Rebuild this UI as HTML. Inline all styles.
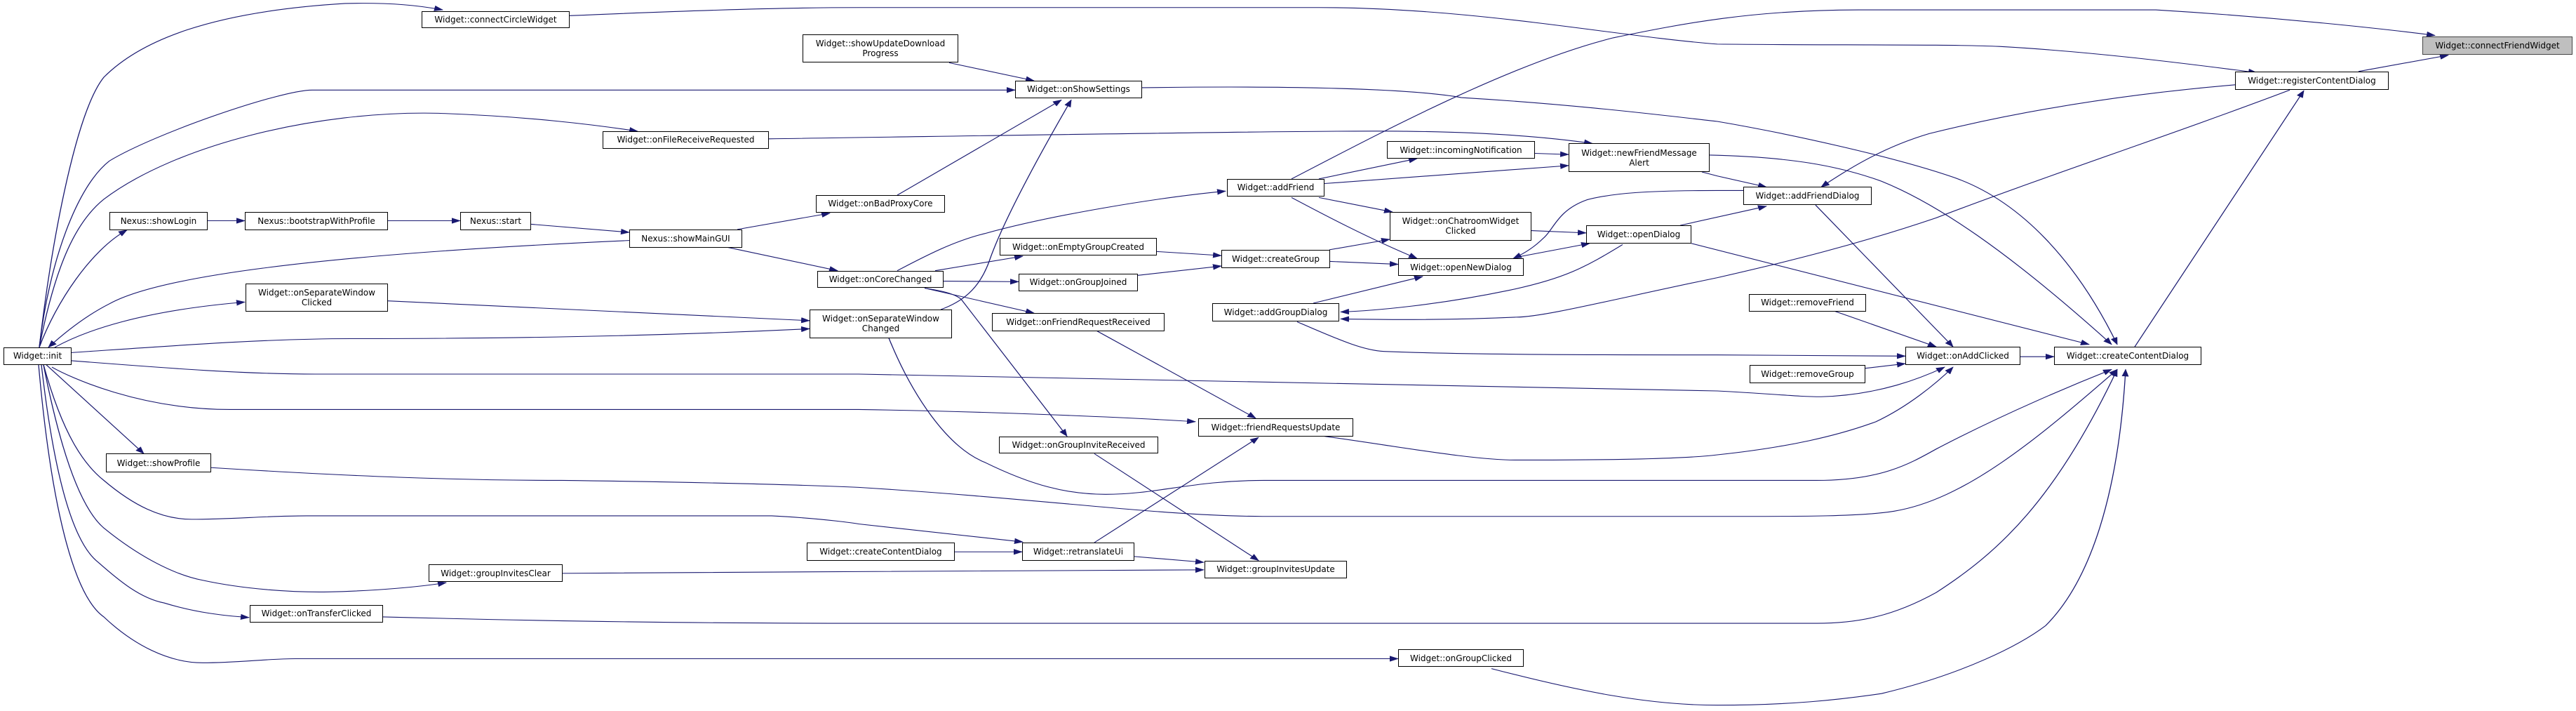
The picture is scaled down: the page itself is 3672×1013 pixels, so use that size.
<!DOCTYPE html>
<html><head><meta charset="utf-8"><style>
html,body{margin:0;padding:0;background:#fff;}
#c{position:relative;width:3672px;height:1013px;overflow:hidden;background:#fff;}
svg{position:absolute;left:0;top:0;}
.n{position:absolute;box-sizing:border-box;border:1.3px solid #000;background:#fff;font-family:"DejaVu Sans","Liberation Sans",sans-serif;font-size:12px;line-height:14px;color:#000;text-align:center;display:flex;align-items:center;justify-content:center;white-space:nowrap;}
.g{background:#bfbfbf;border-color:#444;}
</style></head><body><div id="c">
<svg width="3672" height="1013" viewBox="0 0 3672 1224" preserveAspectRatio="none">
<defs><marker id="a" markerWidth="13" markerHeight="10" refX="12" refY="5" orient="auto" markerUnits="userSpaceOnUse"><path d="M0,0 L13,5 L0,10 z" fill="#191970"/></marker></defs>
<g fill="none" stroke="#191970" stroke-width="1.3" vector-effect="non-scaling-stroke" marker-end="url(#a)">
<path d="M56,598 C75,400 110,190 148,133 C200,70 300,20 492,6 C560,4 600,10 631,17"/>
<path d="M812,27 C950,20 1100,13 1224,13 L1880,13 C2100,13 2300,62 2448,76 C2600,78 2780,76 2850,80 C3000,90 3150,115 3217,125"/>
<path d="M1841,308 C1950,240 2150,110 2300,65 C2400,40 2500,17 2650,17 L3073,17 C3250,30 3400,50 3471,61"/>
<path d="M56,598 C70,450 110,320 156,277 C220,230 400,155 445,155 L1447,155"/>
<path d="M56,598 C80,450 110,380 148,343 C250,250 450,190 625,195 C750,200 850,215 909,226"/>
<path d="M1096,239 C1500,232 1900,224 2005,226 C2150,228 2230,240 2270,247"/>
<path d="M56,598 C80,520 130,430 181,396"/>
<path d="M296,380 L349,380"/>
<path d="M553,380 L656,380"/>
<path d="M757,386 L897,400"/>
<path d="M1051,395 L1183,367"/>
<path d="M1038,426 L1194,466"/>
<path d="M897,414 C600,430 250,460 156,523 C120,545 90,575 69,598"/>
<path d="M78,598 C120,570 200,535 349,520"/>
<path d="M553,518 L1154,552"/>
<path d="M102,607 C250,595 380,583 500,583 C800,583 1000,575 1154,566"/>
<path d="M102,621 C250,635 350,644 450,644 L1224,644 L2448,673 C2530,678 2560,683 2596,683 C2680,680 2740,650 2772,632"/>
<path d="M74,632 C100,650 200,705 328,705 L1224,705 C1400,708 1600,718 1704,726"/>
<path d="M66,628 L205,781"/>
<path d="M301,805 C500,820 650,827 800,827 C1000,830 1150,835 1224,839 C1500,860 1650,888 1800,889 L2448,889 C2550,889 2650,890 2700,880 C2800,860 2900,760 3018,636"/>
<path d="M1267,582 C1300,680 1350,770 1404,796 C1470,835 1520,851 1576,851 C1650,851 1700,827 1802,827 L2589,827 C2680,827 2720,800 2760,773 C2860,710 2960,660 3010,636"/>
<path d="M62,628 C90,750 120,800 148,827 C190,870 230,894 273,894 C330,894 380,888 437,888 L1100,888 C1180,893 1224,902 1224,902 L1458,933"/>
<path d="M62,628 C90,800 120,880 148,909 C200,960 250,990 289,999 C350,1015 420,1020 468,1019 C540,1017 600,1010 636,1003"/>
<path d="M802,987 L1224,984 L1716,981"/>
<path d="M59,628 C80,850 110,940 140,968 C170,1000 200,1030 234,1038 C280,1055 320,1060 355,1063"/>
<path d="M546,1062 C800,1070 1000,1073 1224,1073 L2590,1073 C2650,1073 2700,1060 2760,1020 C2850,950 2930,860 3018,636"/>
<path d="M55,628 C75,900 110,1030 148,1062 C190,1110 240,1141 289,1141 C340,1141 380,1134 421,1134 L1993,1134"/>
<path d="M2126,1151 C2250,1190 2350,1214 2448,1214 C2550,1214 2620,1205 2682,1194 C2800,1160 2880,1110 2916,1077 C2980,1000 3020,850 3030,636"/>
<path d="M1361,950 L1457,950"/>
<path d="M1617,958 L1716,968"/>
<path d="M1560,934 L1794,753"/>
<path d="M1560,781 L1794,965"/>
<path d="M1564,570 L1790,720"/>
<path d="M1318,496 C1340,500 1360,505 1370,515 L1521,751"/>
<path d="M1318,496 L1474,539"/>
<path d="M1345,484 L1452,485"/>
<path d="M1333,466 L1458,441"/>
<path d="M1279,466 C1320,440 1360,415 1404,402 C1500,370 1650,340 1747,329"/>
<path d="M1341,533 C1370,520 1395,500 1410,450 C1430,380 1480,270 1527,172"/>
<path d="M1279,336 L1513,172"/>
<path d="M1353,108 L1474,139"/>
<path d="M1649,433 L1741,440"/>
<path d="M1622,474 L1741,458"/>
<path d="M1895,430 L1981,412"/>
<path d="M1896,450 L1993,455"/>
<path d="M1880,308 L2020,273"/>
<path d="M1888,316 L2236,285"/>
<path d="M1880,340 L1985,365"/>
<path d="M1841,340 C1880,365 1950,410 2020,445"/>
<path d="M2188,264 L2236,266"/>
<path d="M2183,397 L2261,401"/>
<path d="M2161,443 L2266,419"/>
<path d="M1872,522 L2028,476"/>
<path d="M2426,296 L2448,303 L2518,322"/>
<path d="M2485,328 L2448,328 C2350,328 2300,332 2262,344 C2220,362 2215,395 2200,410 C2185,428 2170,438 2157,445"/>
<path d="M2395,388 L2518,355"/>
<path d="M2411,419 L2978,593"/>
<path d="M3264,155 C3100,230 2900,310 2760,375 C2650,420 2550,450 2448,478 C2300,515 2200,546 2161,546 C2050,552 1960,550 1911,549"/>
<path d="M2313,421 C2260,460 2230,480 2150,500 C2050,525 1960,535 1911,537"/>
<path d="M1849,554 C1900,580 1940,603 1973,605 C2100,611 2300,611 2448,611 L2716,613"/>
<path d="M1888,751 C2000,770 2100,792 2161,792 C2300,792 2400,790 2448,783 C2550,770 2620,750 2674,726 C2720,700 2760,660 2784,632"/>
<path d="M1628,151 C1800,148 2000,150 2083,168 C2250,180 2380,200 2448,209 C2550,230 2700,270 2784,305 C2880,345 2960,450 3018,593"/>
<path d="M2437,267 C2550,270 2620,285 2682,312 C2760,350 2860,430 3010,593"/>
<path d="M3362,123 L3490,95"/>
<path d="M3186,146 C3050,160 2900,185 2750,230 C2680,255 2630,295 2596,322"/>
<path d="M2588,353 L2784,597"/>
<path d="M2616,536 L2760,597"/>
<path d="M2659,634 L2716,626"/>
<path d="M2880,614 L2928,614"/>
<path d="M3043,597 L3284,156"/>
</g></svg>
<div class="n g" style="left:3453px;top:calc(63px*0.8276);width:214px;height:calc(31px*0.8276)">Widget::connectFriendWidget</div>
<div class="n" style="left:3186px;top:calc(123px*0.8276);width:219px;height:calc(32px*0.8276)">Widget::registerContentDialog</div>
<div class="n" style="left:2485px;top:calc(322px*0.8276);width:183px;height:calc(31px*0.8276)">Widget::addFriendDialog</div>
<div class="n" style="left:2493px;top:calc(506px*0.8276);width:167px;height:calc(30px*0.8276)">Widget::removeFriend</div>
<div class="n" style="left:2716px;top:calc(597px*0.8276);width:164px;height:calc(31px*0.8276)">Widget::onAddClicked</div>
<div class="n" style="left:2494px;top:calc(628px*0.8276);width:165px;height:calc(32px*0.8276)">Widget::removeGroup</div>
<div class="n" style="left:2928px;top:calc(597px*0.8276);width:210px;height:calc(31px*0.8276)">Widget::createContentDialog</div>
<div class="n" style="left:1447px;top:calc(139px*0.8276);width:181px;height:calc(30px*0.8276)">Widget::onShowSettings</div>
<div class="n" style="left:1977px;top:calc(243px*0.8276);width:211px;height:calc(30px*0.8276)">Widget::incomingNotification</div>
<div class="n" style="left:2236px;top:calc(247px*0.8276);width:201px;height:calc(49px*0.8276)">Widget::newFriendMessage<br>Alert</div>
<div class="n" style="left:1749px;top:calc(308px*0.8276);width:139px;height:calc(30px*0.8276)">Widget::addFriend</div>
<div class="n" style="left:1981px;top:calc(365px*0.8276);width:202px;height:calc(49px*0.8276)">Widget::onChatroomWidget<br>Clicked</div>
<div class="n" style="left:2261px;top:calc(388px*0.8276);width:150px;height:calc(31px*0.8276)">Widget::openDialog</div>
<div class="n" style="left:1425px;top:calc(410px*0.8276);width:224px;height:calc(30px*0.8276)">Widget::onEmptyGroupCreated</div>
<div class="n" style="left:1741px;top:calc(430px*0.8276);width:155px;height:calc(31px*0.8276)">Widget::createGroup</div>
<div class="n" style="left:1993px;top:calc(445px*0.8276);width:179px;height:calc(30px*0.8276)">Widget::openNewDialog</div>
<div class="n" style="left:1452px;top:calc(471px*0.8276);width:170px;height:calc(30px*0.8276)">Widget::onGroupJoined</div>
<div class="n" style="left:1728px;top:calc(522px*0.8276);width:181px;height:calc(31px*0.8276)">Widget::addGroupDialog</div>
<div class="n" style="left:1414px;top:calc(539px*0.8276);width:246px;height:calc(31px*0.8276)">Widget::onFriendRequestReceived</div>
<div class="n" style="left:1708px;top:calc(720px*0.8276);width:221px;height:calc(31px*0.8276)">Widget::friendRequestsUpdate</div>
<div class="n" style="left:1424px;top:calc(751px*0.8276);width:227px;height:calc(30px*0.8276)">Widget::onGroupInviteReceived</div>
<div class="n" style="left:1457px;top:calc(934px*0.8276);width:160px;height:calc(31px*0.8276)">Widget::retranslateUi</div>
<div class="n" style="left:1717px;top:calc(965px*0.8276);width:203px;height:calc(31px*0.8276)">Widget::groupInvitesUpdate</div>
<div class="n" style="left:1993px;top:calc(1118px*0.8276);width:179px;height:calc(30px*0.8276)">Widget::onGroupClicked</div>
<div class="n" style="left:601px;top:calc(19px*0.8276);width:211px;height:calc(29px*0.8276)">Widget::connectCircleWidget</div>
<div class="n" style="left:1144px;top:calc(59px*0.8276);width:222px;height:calc(49px*0.8276)">Widget::showUpdateDownload<br>Progress</div>
<div class="n" style="left:859px;top:calc(226px*0.8276);width:237px;height:calc(30px*0.8276)">Widget::onFileReceiveRequested</div>
<div class="n" style="left:156px;top:calc(365px*0.8276);width:140px;height:calc(31px*0.8276)">Nexus::showLogin</div>
<div class="n" style="left:349px;top:calc(365px*0.8276);width:204px;height:calc(31px*0.8276)">Nexus::bootstrapWithProfile</div>
<div class="n" style="left:656px;top:calc(365px*0.8276);width:101px;height:calc(31px*0.8276)">Nexus::start</div>
<div class="n" style="left:897px;top:calc(395px*0.8276);width:161px;height:calc(31px*0.8276)">Nexus::showMainGUI</div>
<div class="n" style="left:1163px;top:calc(336px*0.8276);width:184px;height:calc(30px*0.8276)">Widget::onBadProxyCore</div>
<div class="n" style="left:1165px;top:calc(466px*0.8276);width:180px;height:calc(30px*0.8276)">Widget::onCoreChanged</div>
<div class="n" style="left:350px;top:calc(488px*0.8276);width:203px;height:calc(48px*0.8276)">Widget::onSeparateWindow<br>Clicked</div>
<div class="n" style="left:1154px;top:calc(533px*0.8276);width:203px;height:calc(49px*0.8276)">Widget::onSeparateWindow<br>Changed</div>
<div class="n" style="left:5px;top:calc(598px*0.8276);width:97px;height:calc(30px*0.8276)">Widget::init</div>
<div class="n" style="left:151px;top:calc(781px*0.8276);width:150px;height:calc(32px*0.8276)">Widget::showProfile</div>
<div class="n" style="left:1150px;top:calc(934px*0.8276);width:211px;height:calc(31px*0.8276)">Widget::createContentDialog</div>
<div class="n" style="left:611px;top:calc(972px*0.8276);width:191px;height:calc(30px*0.8276)">Widget::groupInvitesClear</div>
<div class="n" style="left:356px;top:calc(1041px*0.8276);width:190px;height:calc(31px*0.8276)">Widget::onTransferClicked</div>
</div></body></html>
